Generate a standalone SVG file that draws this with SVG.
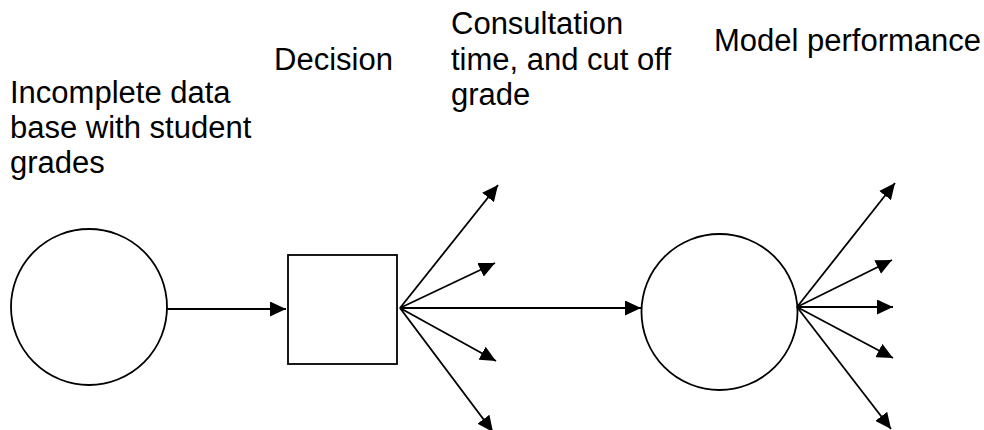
<svg xmlns="http://www.w3.org/2000/svg" width="984" height="430" viewBox="0 0 984 430">
<defs>
<style>
.shape{fill:#fff;stroke:#000;stroke-width:1.8}
.edge{fill:none;stroke:#000;stroke-width:1.8}
.lbl{font-family:"Liberation Sans",Arial,sans-serif;font-size:31px;fill:#000}
</style>
<marker id="ah" markerUnits="userSpaceOnUse" markerWidth="16" markerHeight="15" refX="16" refY="7.5" orient="auto" viewBox="0 0 16 15">
<path d="M0,0 L16,7.5 L0,15 Z" fill="#000"/>
</marker>
</defs>
<rect width="984" height="430" fill="#fff"/>
<g id="n-database">
<circle class="shape" cx="89" cy="307" r="78"/>
<text class="lbl" x="10" y="103">Incomplete data</text>
<text class="lbl" x="10" y="138">base with student</text>
<text class="lbl" x="10" y="173">grades</text>
</g>
<g id="n-decision">
<rect class="shape" x="288" y="255" width="109" height="109"/>
<text class="lbl" x="274" y="70">Decision</text>
</g>
<g id="n-consultation">
<text class="lbl" x="451" y="34">Consultation</text>
<text class="lbl" x="451" y="70">time, and cut off</text>
<text class="lbl" x="451" y="105">grade</text>
</g>
<g id="n-model">
<circle class="shape" cx="719.5" cy="312" r="78"/>
<text class="lbl" x="714" y="51">Model performance</text>
</g>
<g id="connectors">
<line class="edge" x1="167" y1="309" x2="286" y2="309" marker-end="url(#ah)"/>
<line class="edge" x1="400" y1="308" x2="498" y2="185" marker-end="url(#ah)"/>
<line class="edge" x1="400" y1="308" x2="495" y2="263" marker-end="url(#ah)"/>
<line class="edge" x1="400" y1="308" x2="641" y2="308" marker-end="url(#ah)"/>
<line class="edge" x1="400" y1="308" x2="496" y2="361" marker-end="url(#ah)"/>
<line class="edge" x1="400" y1="308" x2="493" y2="432" marker-end="url(#ah)"/>
<line class="edge" x1="797" y1="307" x2="895" y2="183" marker-end="url(#ah)"/>
<line class="edge" x1="797" y1="307" x2="892" y2="260" marker-end="url(#ah)"/>
<line class="edge" x1="797" y1="307" x2="893" y2="307" marker-end="url(#ah)"/>
<line class="edge" x1="797" y1="307" x2="893" y2="358" marker-end="url(#ah)"/>
<line class="edge" x1="797" y1="307" x2="891" y2="429" marker-end="url(#ah)"/>
</g>
</svg>
